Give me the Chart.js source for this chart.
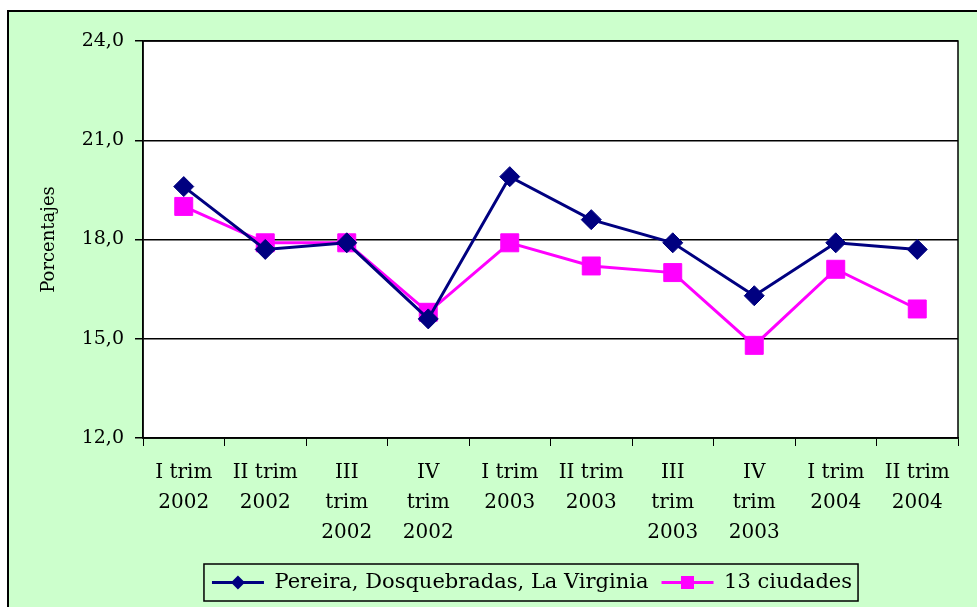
<!DOCTYPE html>
<html>
<head>
<meta charset="utf-8">
<title>Tasa de desempleo</title>
<script src="https://cdn.jsdelivr.net/npm/chart.js@4.4.0/dist/chart.umd.min.js"></script>
<style>
  html, body { margin: 0; padding: 0; background: #fff; overflow: hidden; }
  #marco { position: absolute; left: 0; top: 0; }
</style>
</head>
<body>
<div id="marco"><canvas id="desempleo" width="1064" height="620"></canvas></div>
<script>
// datos
var trimestres = [
  ["I trim", "2002"], ["II trim", "2002"], ["III", "trim", "2002"], ["IV", "trim", "2002"],
  ["I trim", "2003"], ["II trim", "2003"], ["III", "trim", "2003"], ["IV", "trim", "2003"],
  ["I trim", "2004"], ["II trim", "2004"]
];
var pereira = [19.6, 17.7, 17.9, 15.6, 19.9, 18.6, 17.9, 16.3, 17.9, 17.7];
var ciudades = [19.0, 17.9, 17.9, 15.8, 17.9, 17.2, 17.0, 14.8, 17.1, 15.9];
var escalaY = { min: 12, max: 24, paso: 3 };

var fuente = "'DejaVu Serif', serif";
var corrimientoLeyenda = 42;

// fondo verde, marco, area blanca y leyenda con linea + marcador
var decorado = {
  id: 'decorado',
  afterUpdate: function(chart) {
    var lg = chart.legend;
    lg.left += corrimientoLeyenda;
    lg.right += corrimientoLeyenda;
    lg.legendHitBoxes.forEach(function(hb) { hb.left += corrimientoLeyenda; });
  },
  beforeDraw: function(chart) {
    var c = chart.ctx, a = chart.chartArea;
    c.save();
    c.fillStyle = '#fff';
    c.fillRect(0, 0, chart.width, chart.height);
    c.fillStyle = '#CCFFCC';
    c.fillRect(8, 11, chart.width, chart.height);
    c.strokeStyle = '#000';
    c.lineWidth = 2;
    c.strokeRect(8, 11, chart.width + 20, chart.height + 20);
    c.fillStyle = '#fff';
    c.fillRect(a.left, a.top, a.right - a.left, a.bottom - a.top);
    c.restore();
  },
  beforeDatasetsDraw: function(chart) {
    var c = chart.ctx, a = chart.chartArea;
    c.save();
    c.strokeStyle = '#000';
    c.lineWidth = 1.5;
    c.strokeRect(a.left, a.top, a.right - a.left, a.bottom - a.top);
    c.restore();
  },
  afterDraw: function(chart) {
    var c = chart.ctx, hbs = chart.legend.legendHitBoxes;
    if (!hbs.length) return;
    var ancho = chart.legend.options.labels.boxWidth;
    var primero = hbs[0], ultimo = hbs[hbs.length - 1];
    c.save();
    c.strokeStyle = '#000';
    c.lineWidth = 1.5;
    c.strokeRect(primero.left - 8, primero.top - 8, ultimo.left + ultimo.width - primero.left + 14, primero.height + 16);
    hbs.forEach(function(hb, i) {
      var ds = chart.data.datasets[i];
      var y = hb.top + hb.height / 2, x0 = hb.left, x1 = hb.left + ancho, xm = (x0 + x1) / 2;
      c.strokeStyle = ds.borderColor;
      c.fillStyle = ds.borderColor;
      c.lineWidth = 3;
      c.beginPath();
      c.moveTo(x0, y);
      c.lineTo(x1, y);
      c.stroke();
      c.beginPath();
      if (ds.pointStyle === 'rectRot') {
        c.moveTo(xm - 7, y); c.lineTo(xm, y - 7); c.lineTo(xm + 7, y); c.lineTo(xm, y + 7);
      } else {
        c.rect(xm - 6.5, y - 6.5, 13, 13);
      }
      c.closePath();
      c.fill();
    });
    c.restore();
  }
};

var ctx = document.getElementById('desempleo').getContext('2d');

var grafico = new Chart(ctx, {
  type: 'line',
  data: {
    labels: trimestres,
    datasets: [
      {
        label: "Pereira, Dosquebradas, La Virginia",
        data: pereira,
        borderColor: "#000080",
        backgroundColor: "#000080",
        borderWidth: 3,
        pointStyle: 'rectRot',
        pointRadius: 10,
        pointHoverRadius: 10,
        pointBorderWidth: 1,
        tension: 0
      },
      {
        label: "13 ciudades",
        data: ciudades,
        borderColor: "#FF00FF",
        backgroundColor: "#FF00FF",
        borderWidth: 3,
        pointStyle: 'rect',
        pointRadius: 12.7,
        pointHoverRadius: 12.7,
        pointBorderWidth: 1,
        tension: 0
      }
    ]
  },
  options: {
    responsive: false,
    animation: false,
    devicePixelRatio: 1,
    layout: { padding: { left: 22, top: 41, right: 106, bottom: 17 } },
    plugins: {
      title: { display: false },
      tooltip: { enabled: false },
      legend: {
        display: true,
        position: 'bottom',
        labels: {
          color: '#000',
          font: { family: fuente, size: 21 },
          boxWidth: 52,
          boxHeight: 18,
          padding: 13,
          generateLabels: function(chart) {
            var items = Chart.defaults.plugins.legend.labels.generateLabels(chart);
            items.forEach(function(it) {
              it.fillStyle = 'rgba(0,0,0,0)';
              it.strokeStyle = 'rgba(0,0,0,0)';
              it.lineWidth = 0;
            });
            return items;
          }
        }
      }
    },
    scales: {
      x: {
        offset: true,
        afterFit: function(scale) { scale.height = 121; },
        grid: { drawOnChartArea: false, drawTicks: true, tickLength: 8, color: '#000', offset: true },
        border: { display: true, color: '#000', width: 1.5 },
        ticks: {
          color: '#000',
          font: { family: fuente, size: 20, lineHeight: 1.5 },
          maxRotation: 0,
          autoSkip: false,
          padding: 12
        }
      },
      y: {
        min: escalaY.min,
        max: escalaY.max,
        afterFit: function(scale) { scale.width = 121; },
        grid: { color: '#000', lineWidth: 1.5, tickLength: 8 },
        border: { display: true, color: '#000', width: 1.5 },
        ticks: {
          stepSize: escalaY.paso,
          color: '#000',
          padding: 11,
          font: { family: fuente, size: 19 },
          callback: function(v) { return v.toFixed(1).replace('.', ','); }
        },
        title: {
          display: true,
          text: 'Porcentajes',
          color: '#000',
          font: { family: fuente, size: 18 },
          padding: { top: 17, bottom: 0 }
        }
      }
    }
  },
  plugins: [decorado]
});
</script>
</body>
</html>
